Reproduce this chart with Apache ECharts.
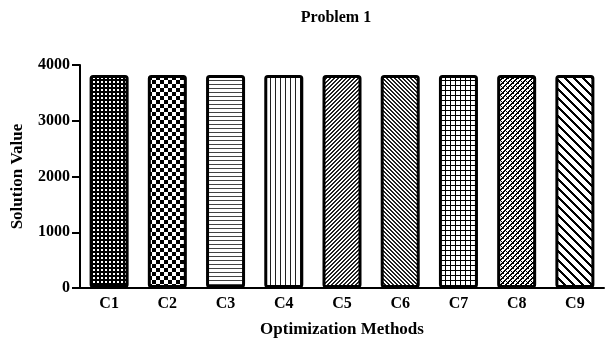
<!DOCTYPE html>
<html><head><meta charset="utf-8">
<script src="https://cdn.jsdelivr.net/npm/echarts@6/dist/echarts.min.js"></script>
<style>html,body{margin:0;padding:0;background:#fff}#c{width:607px;height:343px}</style>
</head><body><div id="c"></div>
<script>
const categories = ['C1','C2','C3','C4','C5','C6','C7','C8','C9'];
const values = [3820,3820,3820,3820,3820,3820,3820,3820,3820];
const yTicks = [0,1000,2000,3000,4000];
const titleText = 'Problem 1';
const xName = 'Optimization Methods';
const yName = 'Solution Value';

function tile(w,h,draw,bg){const c=document.createElement('canvas');c.width=w;c.height=h;const g=c.getContext('2d');g.fillStyle=bg||'#fff';g.fillRect(0,0,w,h);g.fillStyle='#000';draw(g,w,h);return c;}
function diag(w,thick,dir,col){return tile(w,w,(g)=>{g.fillStyle=col||'#000';for(let y=0;y<w;y++){for(let k=0;k<thick;k++){const x=dir>0?((w-1-y+k)%w):((y+k)%w);g.fillRect(x,y,1,1);}}});}
const patterns = [
  tile(4,4,(g)=>{g.fillStyle='#fff';g.fillRect(1,1,2,2);},'#000'),
  tile(8,8,(g)=>{g.fillRect(0,0,4,4);g.fillRect(4,4,4,4);}),
  tile(1,4,(g)=>{g.fillStyle='#444';g.fillRect(0,0,1,1);}),
  tile(5,1,(g)=>{g.fillStyle='#222';g.fillRect(0,0,1,1);}),
  diag(4,2,1,'#222'),
  diag(4,2,-1,'#222'),
  tile(5,5,(g)=>{g.fillRect(0,0,5,1);g.fillRect(0,0,1,5);}),
  tile(5,5,(g)=>{for(let y=0;y<5;y++){for(let k=0;k<2;k++){g.fillRect((4-y+k)%5,y,1,1);}} g.fillRect(1,1,1,1);g.fillRect(3,3,1,1);}),
  diag(9,3,-1,'#000')
];

const font = "'Liberation Serif','Times New Roman',serif";
const chart = echarts.init(document.getElementById('c'));
chart.setOption({
  animation:false,
  backgroundColor:'#fff',
  title:{text:titleText,left:331,top:5,textAlign:'center',textStyle:{fontFamily:font,fontWeight:'bold',fontSize:16,color:'#000'}},
  grid:{left:80,right:3,top:65,bottom:54,containLabel:false},
  xAxis:{type:'category',data:categories,name:xName,nameLocation:'middle',nameGap:33,
    nameTextStyle:{fontFamily:font,fontWeight:'bold',fontSize:17,color:'#000'},
    axisLine:{lineStyle:{color:'#000',width:2}},
    axisTick:{alignWithLabel:true,length:6,lineStyle:{color:'#000',width:2}},
    axisLabel:{margin:8,fontFamily:font,fontWeight:'bold',fontSize:16,color:'#000'}},
  yAxis:{type:'value',min:yTicks[0],max:yTicks[yTicks.length-1],interval:yTicks[1]-yTicks[0],
    name:yName,nameLocation:'middle',nameGap:54,nameRotate:90,
    nameTextStyle:{fontFamily:font,fontWeight:'bold',fontSize:17,color:'#000'},
    axisLine:{show:true,lineStyle:{color:'#000',width:2}},
    axisTick:{show:true,length:8,lineStyle:{color:'#000',width:2}},
    splitLine:{show:false},
    axisLabel:{margin:10,fontFamily:font,fontWeight:'bold',fontSize:16,color:'#000',formatter:(v)=>String(v)}},
  series:[{type:'bar',barWidth:'67%',
    data:values.map((v,i)=>({value:v,itemStyle:{color:{image:patterns[i],repeat:'repeat'}}})),
    itemStyle:{borderColor:'#000',borderWidth:3,borderRadius:2}}]
});
</script></body></html>
